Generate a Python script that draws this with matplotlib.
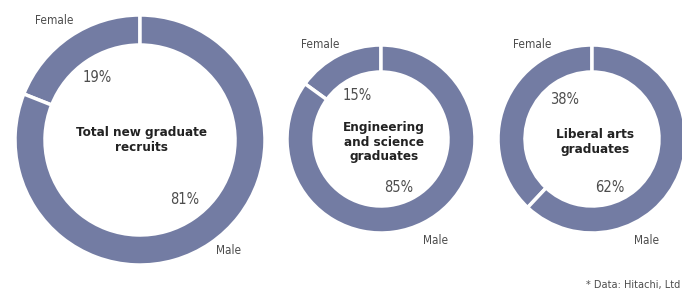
import matplotlib.pyplot as plt

# shares of new graduate recruits (%)
titles = ['Total new graduate\nrecruits', 'Engineering\nand science\ngraduates', 'Liberal arts\ngraduates']
female = [19, 15, 38]
male = [81, 85, 62]
labels = ['Female', 'Male']

ring_color = '#737ca3'
text_color = '#4d4d4d'
plt.rcParams['font.family'] = ['DejaVu Sans']
plt.rcParams['font.stretch'] = 'condensed'

W, H = 682, 294
fig = plt.figure(figsize=(W / 100, H / 100), dpi=100)
ax = fig.add_axes([0, 0, 1, 1])

# layout in pixel coords (x, y from top), outer radius, ring width
centers = [(140, 140), (381, 139), (592, 139)]
radii = [125, 94, 94]
widths = [30, 27, 27]
female_lbl = [(54, 20), (320, 45), (532, 45)]
male_lbl = [(229, 251), (436, 241), (647, 241)]
fpct = [(97, 78), (357, 96), (565, 100)]
mpct = [(185, 200), (399, 187), (610, 187)]
title_pos = [(141, 140), (384, 142), (595, 142)]

for i in range(3):
    cx, cy = centers[i]
    ax.pie([female[i], male[i]], colors=[ring_color, ring_color],
           startangle=90, counterclock=True, center=(cx, H - cy), radius=radii[i],
           wedgeprops=dict(width=widths[i], edgecolor='white', linewidth=2.5),
           frame=True)
    ax.text(female_lbl[i][0], H - female_lbl[i][1], labels[0], ha='center', va='center',
            fontsize=8.5, color=text_color)
    ax.text(male_lbl[i][0], H - male_lbl[i][1], labels[1], ha='center', va='center',
            fontsize=8.5, color=text_color)
    ax.text(fpct[i][0], H - fpct[i][1], str(female[i]) + '%', ha='center', va='center',
            fontsize=10.5, color=text_color)
    ax.text(mpct[i][0], H - mpct[i][1], str(male[i]) + '%', ha='center', va='center',
            fontsize=10.5, color=text_color)
    ax.text(title_pos[i][0], H - title_pos[i][1], titles[i], ha='center', va='center',
            fontsize=9.6, fontweight='bold', color='#222222', linespacing=1.15)

ax.text(680, H - 285, '* Data: Hitachi, Ltd', ha='right', va='center', fontsize=7.8, color=text_color)

ax.set_xlim(0, W)
ax.set_ylim(0, H)
ax.set_aspect('equal')
ax.axis('off')
fig.savefig('out.png', dpi=100)
